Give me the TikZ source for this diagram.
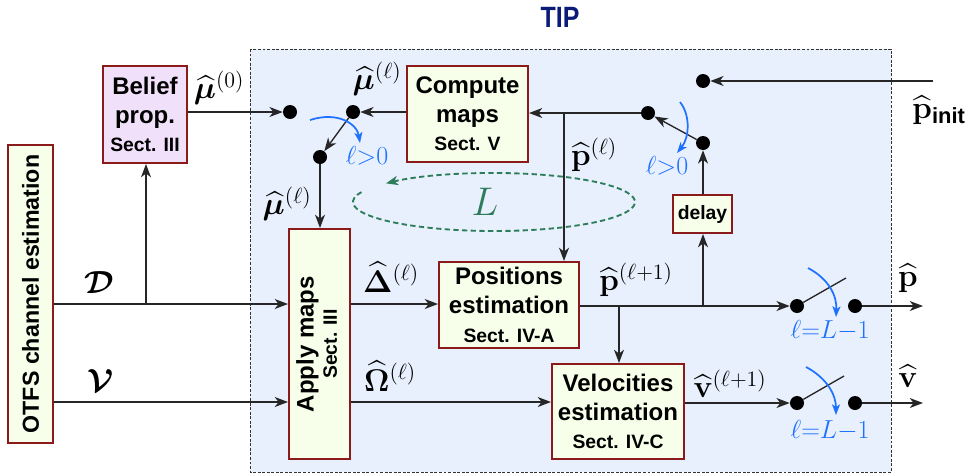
\RequirePackage{fix-cm}
\documentclass[tikz,border=0pt]{standalone}
\usepackage{amsmath,amssymb,bm}
\usepackage[no-math]{fontspec}
\setmainfont{Liberation Sans}
\usepackage{graphicx}
\usetikzlibrary{arrows.meta,calc}
\definecolor{boxfill}{HTML}{F7FEE9}
\definecolor{boxedge}{HTML}{8B1A1A}
\definecolor{bpfill}{HTML}{F1E0FA}
\definecolor{tipbg}{HTML}{E8F0FD}
\definecolor{tipblue}{HTML}{0B1C78}
\definecolor{swblue}{HTML}{1F72FF}
\definecolor{loopgreen}{HTML}{2E7D5A}
\tikzset{
  box/.style={draw=boxedge, line width=1.5pt, fill=boxfill, align=center, inner sep=0pt,
    font=\fontsize{18}{21.5}\selectfont\bfseries},
  dot/.style={circle, fill=black, inner sep=0pt, minimum size=10.5pt},
  conn/.style={line width=1pt, black!85},
  arr/.style={conn, -{Stealth[length=10pt,width=7.5pt,inset=3pt]}},
  mlab/.style={font=\fontsize{23.5}{28}\selectfont, inner sep=0pt},
  blab/.style={text=swblue, font=\fontsize{19.5}{23}\selectfont, inner sep=0pt},
  barr/.style={draw=swblue, line width=1.3pt, -{Stealth[length=8pt,width=6pt,inset=2pt]}},
}
\newcommand{\sectsz}{\fontsize{14.5}{17}\selectfont}
\begin{document}
\begin{tikzpicture}[x=0.75pt,y=-0.75pt]
\useasboundingbox (0,0) rectangle (969,475);
% TIP region
\fill[tipbg] (250,49) rectangle (891,472);
\draw[black!80, line width=0.7pt, dash pattern=on 2.2pt off 1.2pt] (250,49) rectangle (891,472);
\node[font=\fontsize{22}{26}\selectfont\bfseries, text=tipblue, inner sep=0pt] (title) at (560,17) {\scalebox{0.85}[1]{TIP}};
% loop ellipse
\coordinate (lc) at (494,202);
\draw[loopgreen, line width=1.4pt, dash pattern=on 4pt off 2.5pt, -{Stealth[length=9pt,width=7pt,inset=2.5pt]}]
  (361.5,192.1) arc[start angle=200, end angle=-140, x radius=141, y radius=29];
\node[text=loopgreen, font=\fontsize{30}{34}\selectfont, inner sep=0pt] (Lab) at (485,202) {$L$};
% boxes
\node[box, minimum width=33.75pt, minimum height=223.5pt, font=\fontsize{17.4}{20}\selectfont\bfseries] (otfs) at (30.5,294) {\rotatebox{90}{OTFS channel estimation}};
\node[box, fill=bpfill, minimum width=63pt, minimum height=72.75pt] (bp) at (145,114.5) {Belief\\prop.\\{\sectsz Sect. III}};
\node[box, minimum width=90.75pt, minimum height=72pt] (cm) at (467.5,114) {Compute\\maps\\{\sectsz Sect. V}};
\node[box, minimum width=45.75pt, minimum height=172.5pt] (ap) at (319.5,344) {\rotatebox{90}{\begin{tabular}{@{}c@{}}Apply maps\\[-4pt] \sectsz Sect. III\end{tabular}}};
\node[box, minimum width=105pt, minimum height=64.5pt] (pos) at (509,305) {Positions\\estimation\\{\sectsz Sect. IV-A}};
\node[box, minimum width=99pt, minimum height=71.25pt] (vel) at (618,411.5) {Velocities\\estimation\\{\sectsz Sect. IV-C}};
\node[box, minimum width=44.25pt, minimum height=28.5pt, font=\fontsize{14.5}{17}\selectfont\bfseries] (dl) at (702.5,214) {delay};
% dots
\node[dot] (d0) at (290,112) {};
\node[dot] (dmu) at (353,112) {};
\node[dot] (dsw) at (320,157) {};
\node[dot] (dp) at (648,113) {};
\node[dot] (dd) at (703,143) {};
\node[dot] (dinit) at (703,81) {};
\node[dot] (s1a) at (797,306) {};
\node[dot] (s1b) at (855,306) {};
\node[dot] (s2a) at (797,403) {};
\node[dot] (s2b) at (855,403) {};
% coordinates
\coordinate (pin) at (933,81);
\coordinate (bpos) at (564,113);
\coordinate (bvel) at (619,306);
\coordinate (bdel) at (703,306);
\coordinate (o1) at (923,306);
\coordinate (o2) at (923,403);
\coordinate (yD) at (0,304);
\coordinate (yV) at (0,402);
\coordinate (bD) at (146,304);
\coordinate (l1) at (846,278);
\coordinate (l2) at (844,376);
% connectors
\draw[arr] (pin) -- (dinit);
\draw[arr] (bp.east |- d0) -- (d0);
\draw[arr] (cm.west |- dmu) -- (dmu);
\draw[arr] (dmu) -- (dsw);
\draw[arr] (dsw) -- (dsw |- ap.north);
\draw[arr] (dp) -- (cm.east |- dp);
\draw[arr] (bpos) -- (bpos |- pos.north);
\draw[arr] (dd) -- (dp);
\draw[arr] (dd |- dl.north) -- (dd);
\draw[arr] (pos.east |- s1a) -- (s1a);
\draw[arr] (bvel) -- (bvel |- vel.north);
\draw[arr] (bdel) -- (bdel |- dl.south);
\draw[arr] (vel.east |- s2a) -- (s2a);
\draw[arr] (s1b) -- (o1);
\draw[arr] (s2b) -- (o2);
\draw[arr] (otfs.east |- yD) -- (ap.west |- yD);
\draw[arr] (bD) -- (bD |- bp.south);
\draw[arr] (otfs.east |- yV) -- (ap.west |- yV);
\draw[arr] (ap.east |- yD) -- (pos.west |- yD);
\draw[arr] (ap.east |- yV) -- (vel.west |- yV);
\draw[conn] (s1a) -- (l1);
\draw[conn] (s2a) -- (l2);
% blue switch arrows
\draw[barr] (310,120) .. controls (338,111) and (357,124) .. (360,143);
\draw[barr] (680,102) .. controls (691,116) and (689,138) .. (677,153);
\draw[barr] (808,268) .. controls (829,279) and (837,296) .. (836,317);
\draw[barr] (806,367) .. controls (827,378) and (836,395) .. (836,415);
\node[blab] (c1) at (367,156) {$\ell{>}0$};
\node[blab] (c2) at (667,166) {$\ell{>}0$};
\node[blab] (c3) at (830,331) {$\ell{=}L{-}1$};
\node[blab] (c4) at (830,431) {$\ell{=}L{-}1$};
% math labels
\node[mlab] (lmu0) at (219,88) {$\widehat{\bm{\mu}}^{(0)}$};
\node[mlab] (lmut) at (377,79) {$\widehat{\bm{\mu}}^{(\ell)}$};
\node[mlab] (lmul) at (287,204) {$\widehat{\bm{\mu}}^{(\ell)}$};
\node[mlab] (lpl) at (594,155) {$\widehat{\mathbf{p}}^{(\ell)}$};
\node[mlab] (lD) at (391,277) {$\widehat{\bm{\Delta}}^{(\ell)}$};
\node[mlab] (lO) at (390,376) {$\widehat{\bm{\Omega}}^{(\ell)}$};
\node[mlab, font=\fontsize{24}{28}\selectfont] (lcD) at (99,283) {$\bm{\mathcal{D}}$};
\node[mlab, font=\fontsize{24}{28}\selectfont] (lcV) at (101,381) {$\bm{\mathcal{V}}$};
\node[mlab] (lp1) at (636,280) {$\widehat{\mathbf{p}}^{(\ell+1)}$};
\node[mlab] (lv1) at (730,384) {$\widehat{\mathbf{v}}^{(\ell+1)}$};
\node[mlab] (lpo) at (908,278) {$\widehat{\mathbf{p}}$};
\node[mlab] (lvo) at (908,376) {$\widehat{\mathbf{v}}$};
\node[mlab] (lpi) at (939,110) {$\widehat{\mathbf{p}}_{\text{\textbf{init}}}$};
\end{tikzpicture}
\end{document}
